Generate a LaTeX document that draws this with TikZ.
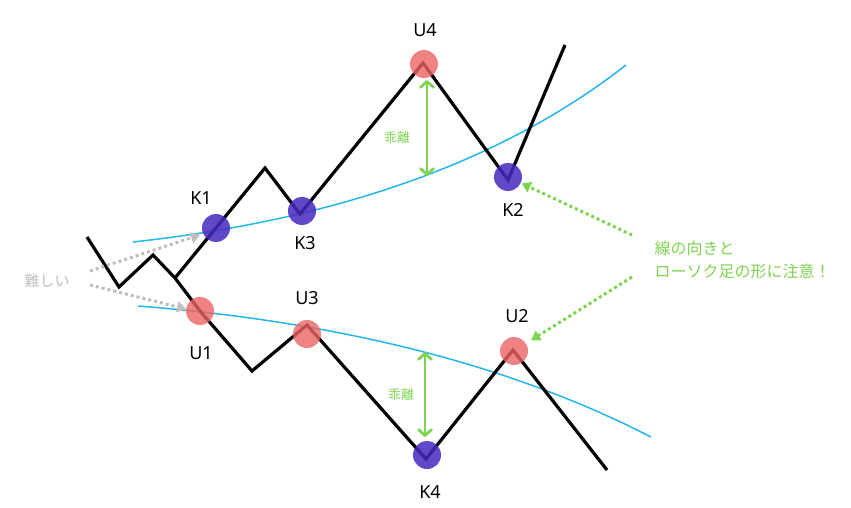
\documentclass[tikz,border=0pt]{standalone}
\usepackage{fontspec}
\setmainfont{Noto Sans}
\newfontfamily\cjk{Noto Sans CJK JP}
\usetikzlibrary{arrows.meta}
\definecolor{trendblue}{RGB}{38,182,238}
\definecolor{upred}{RGB}{235,100,100}
\definecolor{kblue}{RGB}{70,40,190}
\definecolor{notegreen}{RGB}{126,211,80}
\definecolor{hintgray}{RGB}{190,190,190}
\tikzset{
  price/.style={line width=3.2pt, black, line join=miter},
  trend/.style={line width=1.5pt, trendblue},
  upt/.style={circle, fill=upred, fill opacity=0.8, minimum size=28pt, inner sep=0pt},
  kpt/.style={circle, fill=kblue, fill opacity=0.85, minimum size=28pt, inner sep=0pt},
  lbl/.style={font=\fontsize{18}{20}\selectfont, text=black},
  grayarrow/.style={hintgray, line width=3pt, dash pattern=on 3pt off 3pt, -{Triangle[length=9pt,width=11pt]}},
  greenarrow/.style={notegreen, line width=3pt, dash pattern=on 3pt off 3pt, -{Triangle[length=9pt,width=11pt]}},
  gapArrow/.style={notegreen, line width=2.8pt, {Straight Barb[length=6pt,width=13pt,line cap=round,line join=round]}-{Straight Barb[length=6pt,width=13pt,line cap=round,line join=round]}},
  note/.style={text=notegreen, font=\cjk\fontsize{16}{23}\selectfont, align=left, anchor=west},
}
\begin{document}
\begin{tikzpicture}[x=1pt,y=-1pt]
\useasboundingbox (0,0) rectangle (851,508);
% trend curves
\draw[trend] (133,242) .. controls (380,215) and (530,140) .. (626,65);
\draw[trend] (138,306) .. controls (380,325) and (540,380) .. (651,437);
% price line vertices
\coordinate (a0) at (87,237);
\coordinate (a1) at (119,287);
\coordinate (a2) at (153,255);
\coordinate (br) at (175,278);
\coordinate (p1) at (265,168);
\coordinate (v1) at (252,371);
\coordinate (cK3) at (300,214);
\coordinate (cU4) at (423,63);
\coordinate (cK2) at (508,180);
\coordinate (cU1) at (200,311);
\coordinate (cU3) at (307,325);
\coordinate (cK4) at (426,459);
\coordinate (cU2) at (513,350);
\coordinate (endU) at (565,45);
\coordinate (endD) at (607,470);
\draw[price] (a0) -- (a1) -- (a2) -- (br) -- (cU1) -- (v1) -- (cU3) -- (cK4) -- (cU2) -- (endD);
\draw[price] (br) -- (p1) -- (cK3) -- (cU4) -- (cK2) -- (endU);
% circles on top
\node[kpt] (K1) at (216,228) {};
\node[kpt] (K3) at (302,211) {};
\node[upt] (U4) at (424,64) {};
\node[kpt] (K2) at (508,177) {};
\node[upt] (U1) at (200,311) {};
\node[upt] (U3) at (307,334) {};
\node[kpt] (K4) at (427,455) {};
\node[upt] (U2) at (514,351) {};
% labels
\node[lbl] (tK1) at (201,198) {K1};
\node[lbl] (tK3) at (305,243) {K3};
\node[lbl] (tU4) at (425,30) {U4};
\node[lbl] (tK2) at (513,210) {K2};
\node[lbl] (tU1) at (201,353) {U1};
\node[lbl] (tU3) at (307,298) {U3};
\node[lbl] (tU2) at (517,316) {U2};
\node[lbl] (tK4) at (430,492) {K4};
% gap arrows
\coordinate (g1a) at (427,80);
\coordinate (g1b) at (427,176);
\coordinate (g2a) at (425,352);
\coordinate (g2b) at (425,437);
\draw[gapArrow] (g1a) -- (g1b);
\draw[gapArrow] (g2a) -- (g2b);
\node[text=notegreen, font=\cjk\fontsize{13}{15}\selectfont] (d1) at (397,138) {乖離};
\node[text=notegreen, font=\cjk\fontsize{13}{15}\selectfont] (d2) at (401,395) {乖離};
% hint
\node[text=hintgray, font=\cjk\fontsize{15}{17}\selectfont] (hard) at (47,281) {難しい};
\coordinate (h1) at (90,271);
\coordinate (h2) at (90,285);
\draw[grayarrow] (h1) -- (200,235);
\draw[grayarrow] (h2) -- (186,309);
% note
\node[note] (nt) at (651,260) {線の向きと\\ローソク足の形に注意！};
\coordinate (n1) at (632,235);
\coordinate (n2) at (632,277);
\draw[greenarrow, shorten >=1pt] (n1) -- (K2);
\draw[greenarrow, shorten >=6pt] (n2) -- (U2);
\end{tikzpicture}
\end{document}
